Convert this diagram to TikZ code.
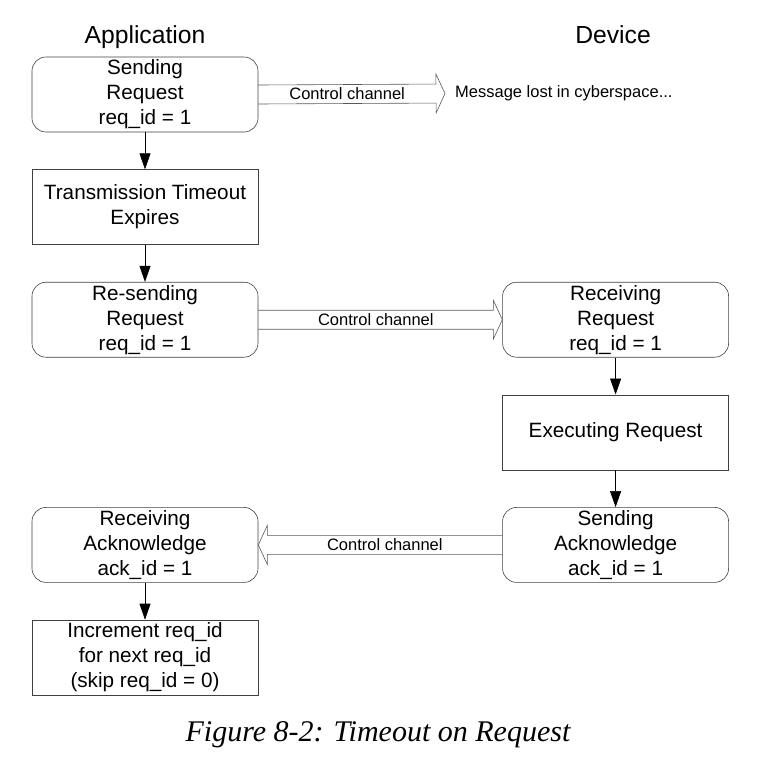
\documentclass[tikz,border=0pt]{standalone}
\usepackage{fontspec}
\setmainfont{Liberation Sans}
\newfontfamily\piefont{Liberation Serif}
\usepackage{tikz}
\usetikzlibrary{shapes, arrows.meta, positioning, calc}
\tikzstyle{estado} = [draw=black!75, line width=0.6pt, rectangle, rounded corners=14pt, minimum width=226pt, minimum height=75pt, inner sep=0pt, align=center, font=\fontsize{20.7}{25}\selectfont]
\tikzstyle{accion} = [estado, rounded corners=0pt]
\tikzstyle{titulo} = [font=\fontsize{24.7}{30}\selectfont, anchor=base]
\tikzstyle{flecha} = [draw=black, line width=0.6pt, -{Triangle[length=16pt, width=11pt]}]
\tikzstyle{canal} = [draw=black!65, line width=0.6pt, line join=miter]
\tikzstyle{rotulo} = [font=\fontsize{16.5}{20}\selectfont, inner sep=0pt]
\newcommand{\canal}[3]{%
	\coordinate (H) at ($(#2)!9pt!(#1)$);
	\draw[canal] ($(#1)!9.5pt!90:(#2)$) -- ($(H)!9.5pt!90:(#2)$) -- ($(H)!19.5pt!90:(#2)$) -- (#2)
		-- ($(H)!19.5pt!-90:(#2)$) -- ($(H)!9.5pt!-90:(#2)$) -- ($(#1)!9.5pt!-90:(#2)$);
	\node[rotulo] at ($(#1)!0.5!(H)$) {#3};}

\begin{document}
\begin{tikzpicture}[x=1pt, y=-1pt]
	\useasboundingbox (0,0) rectangle (756,780);
	\node[titulo] (app) at (145,43) {Application};
	\node[titulo] (disp) at (613,43) {Device};
	% lado de la aplicacion
	\node[estado] (envio) at (145,94.5) {Sending\\Request\\req\_id = 1};
	\node[accion, below=37pt of envio] (timeout) {Transmission Timeout\\Expires};
	\node[estado, below=37pt of timeout] (reenvio) {Re-sending\\Request\\req\_id = 1};
	% lado del dispositivo
	\node[estado, right=244pt of reenvio] (recibe) {Receiving\\Request\\req\_id = 1};
	\node[accion, below=37pt of recibe] (ejecuta) {Executing Request};
	\node[estado, below=37pt of ejecuta] (ackenv) {Sending\\Acknowledge\\ack\_id = 1};
	\node[estado, left=244pt of ackenv] (ackrec) {Receiving\\Acknowledge\\ack\_id = 1};
	\node[accion, below=37pt of ackrec] (incr) {Increment req\_id\\for next req\_id\\(skip req\_id = 0)};
	\node[rotulo, anchor=west, inner xsep=10pt] (perdido) at (445,93.5) {Message lost in cyberspace...};
	\node[font=\piefont\itshape\fontsize{30}{35}\selectfont] (pie) at (378,735) {Figure 8-2: Timeout on Request};
	% flechas
	\draw[flecha] (envio.south) -- (timeout.north);
	\draw[flecha] (timeout.south) -- (reenvio.north);
	\draw[flecha] (recibe.south) -- (ejecuta.north);
	\draw[flecha] (ejecuta.south) -- (ackenv.north);
	\draw[flecha] (ackrec.south) -- (incr.north);
	% canales
	\canal{envio.east}{perdido.west}{Control channel}
	\canal{reenvio.east}{recibe.west}{Control channel}
	\canal{ackenv.west}{ackrec.east}{Control channel}
\end{tikzpicture}
\end{document}
